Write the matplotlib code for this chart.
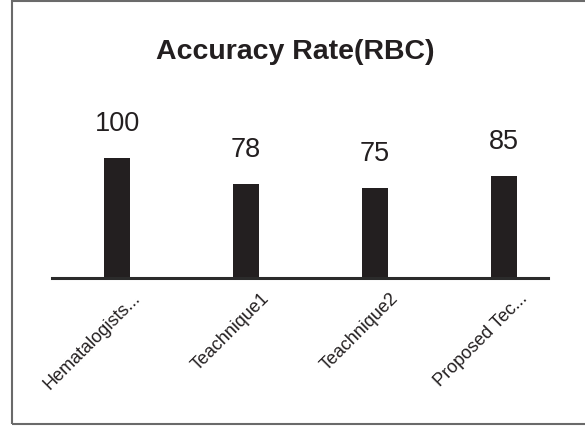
import matplotlib
matplotlib.use('Agg')
import matplotlib.pyplot as plt
from matplotlib.patches import Rectangle
from matplotlib.transforms import ScaledTranslation

plt.rcParams['font.family'] = ['Liberation Sans', 'DejaVu Sans']

# accuracy values per method
methods = ['Hematalogists...', 'Teachnique1', 'Teachnique2', 'Proposed Tec...']
accuracy = [100, 78, 75, 85]

fig = plt.figure(figsize=(5.85, 4.27), dpi=100)
ax = fig.add_axes([0.0889, 0.3466, 0.848, 0.4215])

x = list(range(len(methods)))
bars = ax.bar(x, accuracy, width=0.2, color='#231f20')

ax.set_xlim(-0.504, 3.34)
ax.set_ylim(0, 150)

# value labels above bars
for b, v in zip(bars, accuracy):
    ax.annotate(str(v), (b.get_x() + b.get_width() / 2, v),
                xytext=(0, 16), textcoords='offset points',
                ha='center', va='bottom', fontsize=19.5, color='#231f20')

for s in ['top', 'right', 'left']:
    ax.spines[s].set_visible(False)
ax.spines['bottom'].set_linewidth(2.2)
ax.spines['bottom'].set_color('#2b2b2b')
ax.set_yticks([])
ax.set_xticks(x)
ax.set_xticklabels(methods, rotation=45, ha='right', va='top',
                   rotation_mode='anchor', fontsize=13, color='#231f20')
ax.tick_params(axis='x', length=0, pad=8)
# nudge the slanted labels a little to the right
shift = ScaledTranslation(15 / 100, 0, fig.dpi_scale_trans)
for lbl in ax.get_xticklabels():
    lbl.set_transform(lbl.get_transform() + shift)

fig.text(0.504, 0.878, 'Accuracy Rate(RBC)', ha='center', va='center',
         fontsize=20.5, fontweight='bold', color='#231f20')

# outer frame
fig.patches.append(Rectangle((0.0205, 0.005), 1.2, 0.99, transform=fig.transFigure,
                             fill=False, edgecolor='#6a6a6a', linewidth=1.5))

fig.savefig('out.png', dpi=100)
